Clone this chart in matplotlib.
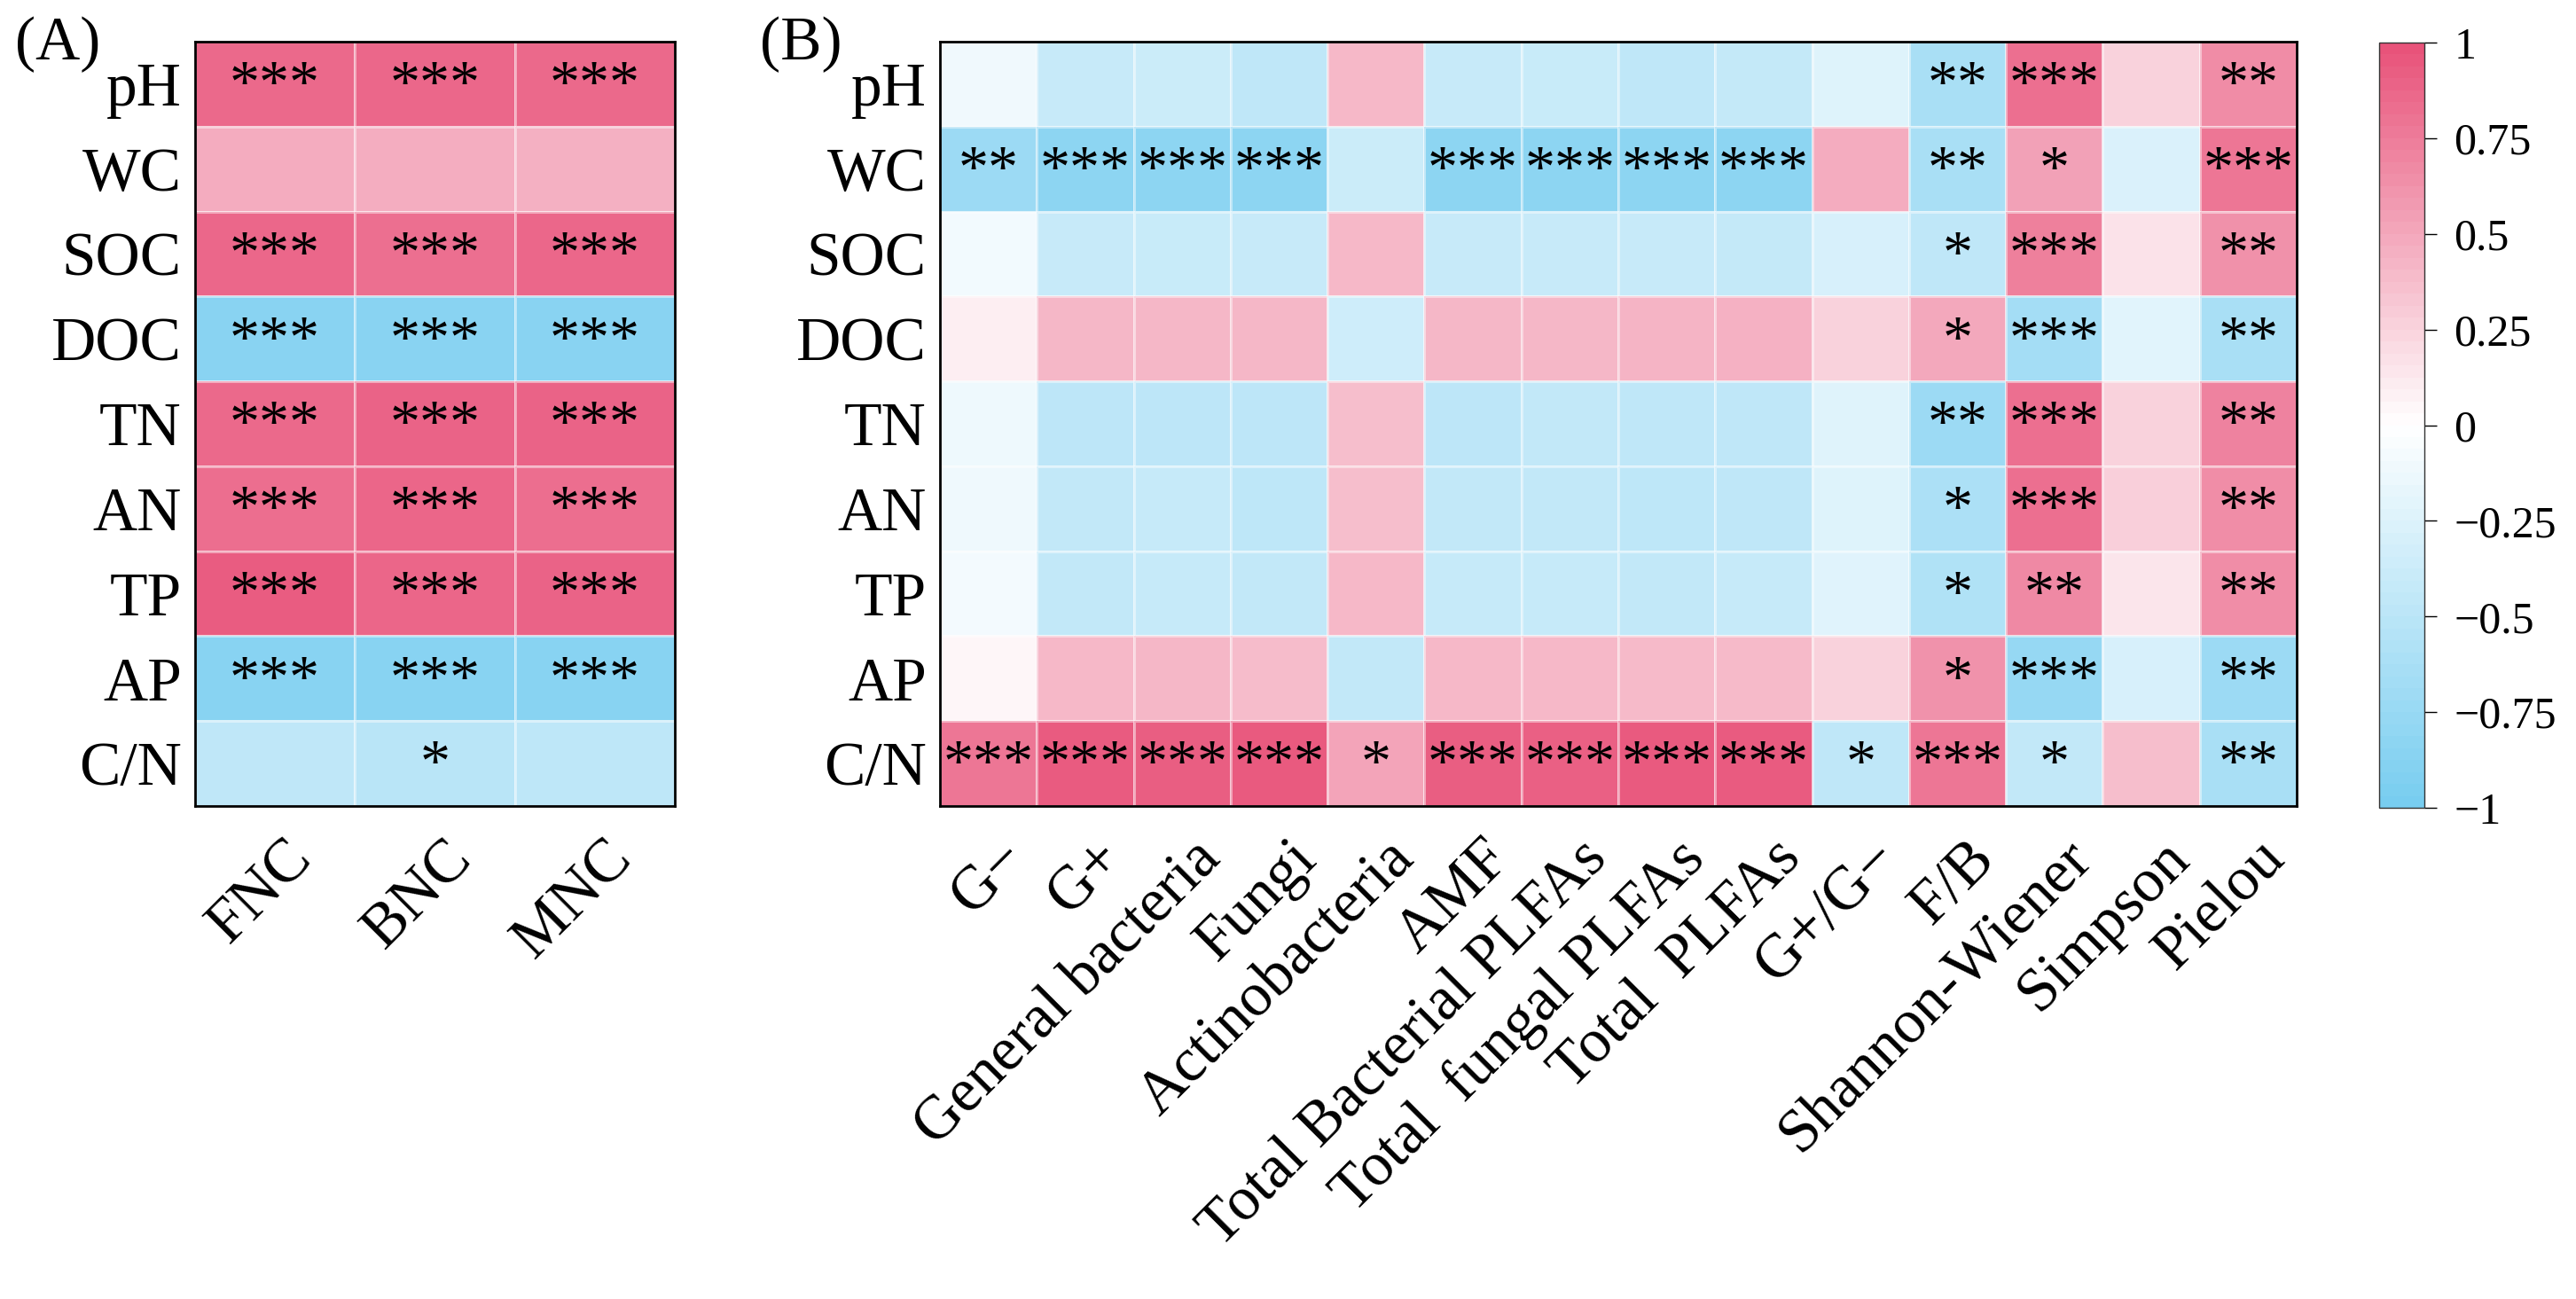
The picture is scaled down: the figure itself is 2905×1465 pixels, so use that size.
import numpy as np
import matplotlib
matplotlib.use("Agg")
import matplotlib.pyplot as plt
from matplotlib.colors import LinearSegmentedColormap, Normalize
import matplotlib.transforms as mtrans

plt.rcParams['font.family'] = ['Liberation Serif', 'DejaVu Serif']
plt.rcParams['axes.unicode_minus'] = True

rows = ["pH", "WC", "SOC", "DOC", "TN", "AN", "TP", "AP", "C/N"]

colsA = ["FNC", "BNC", "MNC"]
valsA = [
    [0.87, 0.88, 0.87],
    [0.48, 0.47, 0.46],
    [0.88, 0.83, 0.88],
    [-0.87, -0.87, -0.87],
    [0.87, 0.90, 0.90],
    [0.84, 0.89, 0.84],
    [0.94, 0.89, 0.90],
    [-0.88, -0.88, -0.88],
    [-0.47, -0.52, -0.48],
]
sigA = [
    ["***", "***", "***"],
    ["", "", ""],
    ["***", "***", "***"],
    ["***", "***", "***"],
    ["***", "***", "***"],
    ["***", "***", "***"],
    ["***", "***", "***"],
    ["***", "***", "***"],
    ["", "*", ""],
]

colsB = ["G\u2212", "G+", "General bacteria", "Fungi", "Actinobacteria", "AMF",
         "Total Bacterial PLFAs", "Total  fungal PLFAs", "Total  PLFAs", "G+/G\u2212",
         "F/B", "Shannon-Wiener", "Simpson", "Pielou"]
valsB = [
    [-0.11, -0.41, -0.39, -0.47, 0.41, -0.41, -0.40, -0.47, -0.43, -0.25, -0.64, 0.83, 0.26, 0.67],
    [-0.73, -0.84, -0.84, -0.84, -0.39, -0.84, -0.84, -0.84, -0.84, 0.48, -0.64, 0.54, -0.27, 0.79],
    [-0.10, -0.41, -0.40, -0.41, 0.41, -0.41, -0.41, -0.41, -0.43, -0.29, -0.47, 0.74, 0.17, 0.64],
    [0.10, 0.42, 0.42, 0.42, -0.36, 0.42, 0.42, 0.43, 0.45, 0.26, 0.50, -0.67, -0.22, -0.64],
    [-0.13, -0.49, -0.49, -0.49, 0.38, -0.49, -0.45, -0.47, -0.47, -0.24, -0.73, 0.83, 0.26, 0.72],
    [-0.12, -0.45, -0.42, -0.48, 0.38, -0.45, -0.45, -0.48, -0.47, -0.25, -0.61, 0.83, 0.28, 0.66],
    [-0.09, -0.45, -0.42, -0.45, 0.41, -0.42, -0.42, -0.45, -0.42, -0.23, -0.58, 0.68, 0.15, 0.66],
    [0.05, 0.41, 0.42, 0.39, -0.45, 0.41, 0.41, 0.40, 0.40, 0.26, 0.63, -0.78, -0.29, -0.73],
    [0.79, 0.95, 0.93, 0.96, 0.53, 0.93, 0.92, 0.96, 0.95, -0.47, 0.79, -0.45, 0.38, -0.64],
]
sigB = [
    ["", "", "", "", "", "", "", "", "", "", "**", "***", "", "**"],
    ["**", "***", "***", "***", "", "***", "***", "***", "***", "", "**", "*", "", "***"],
    ["", "", "", "", "", "", "", "", "", "", "*", "***", "", "**"],
    ["", "", "", "", "", "", "", "", "", "", "*", "***", "", "**"],
    ["", "", "", "", "", "", "", "", "", "", "**", "***", "", "**"],
    ["", "", "", "", "", "", "", "", "", "", "*", "***", "", "**"],
    ["", "", "", "", "", "", "", "", "", "", "*", "**", "", "**"],
    ["", "", "", "", "", "", "", "", "", "", "*", "***", "", "**"],
    ["***", "***", "***", "***", "*", "***", "***", "***", "***", "*", "***", "*", "", "**"],
]

cb_ticks = [1, 0.75, 0.5, 0.25, 0, -0.25, -0.5, -0.75, -1]
cb_labels = ["1", "0.75", "0.5", "0.25", "0", "\u22120.25", "\u22120.5", "\u22120.75", "\u22121"]

cmap = LinearSegmentedColormap.from_list("bwr_soft", ["#78CDF0", "#FFFFFF", "#E8537A"])
norm = Normalize(-1, 1)

W, H = 2905, 1465
fig = plt.figure(figsize=(W / 100, H / 100), dpi=100)

def fx(px):
    return px / W

def fy(py):
    return 1 - py / H

top, bot = 47, 909
axA = fig.add_axes([fx(220), fy(bot), fx(761) - fx(220), fy(top) - fy(bot)])
axB = fig.add_axes([fx(1060), fy(bot), fx(2590) - fx(1060), fy(top) - fy(bot)])
cax = fig.add_axes([fx(2683), fy(911), fx(2734) - fx(2683), fy(48) - fy(911)])

TICK_FS = 50
STAR_FS = 49

def draw(ax, vals, sig, cols):
    data = np.array(vals)
    nr, nc = data.shape
    mesh = ax.pcolormesh(np.arange(nc + 1), np.arange(nr + 1), data, cmap=cmap, norm=norm,
                         edgecolors=(1, 1, 1, 0.45), linewidth=1.0)
    ax.set_xlim(0, nc)
    ax.set_ylim(nr, 0)
    for i in range(nr):
        for j in range(nc):
            if sig[i][j]:
                ax.text(j + 0.5, i + 0.53, sig[i][j], ha="center", va="center",
                        fontsize=STAR_FS, color="black")
    ax.set_yticks(np.arange(nr) + 0.5)
    ax.set_yticklabels(rows, fontsize=TICK_FS)
    ax.set_xticks(np.arange(nc) + 0.5)
    ax.set_xticklabels(cols, fontsize=TICK_FS, rotation=45, ha="right", va="top",
                       rotation_mode="anchor")
    ax.tick_params(axis="both", length=0)
    ax.tick_params(axis="y", pad=11)
    ax.tick_params(axis="x", pad=0)
    off = mtrans.ScaledTranslation(10 / 100, -27 / 100, fig.dpi_scale_trans)
    for lab in ax.get_xticklabels():
        lab.set_transform(lab.get_transform() + off)
    for s in ax.spines.values():
        s.set_linewidth(2.0)
        s.set_color("black")
    return mesh

mA = draw(axA, valsA, sigA, colsA)
mB = draw(axB, valsB, sigB, colsB)

sm = plt.cm.ScalarMappable(cmap=cmap.resampled(64), norm=norm)
cb = fig.colorbar(sm, cax=cax, ticks=cb_ticks)
cb.ax.set_yticklabels(cb_labels, fontsize=36)
cb.ax.tick_params(length=10, width=1.0, pad=14)
cb.outline.set_linewidth(1.0)
cb.outline.set_edgecolor("#333333")

fig.text(fx(17), fy(50), "(A)", fontsize=TICK_FS, ha="left", va="center")
fig.text(fx(857), fy(50), "(B)", fontsize=TICK_FS, ha="left", va="center")

fig.savefig("out.png", dpi=100)
